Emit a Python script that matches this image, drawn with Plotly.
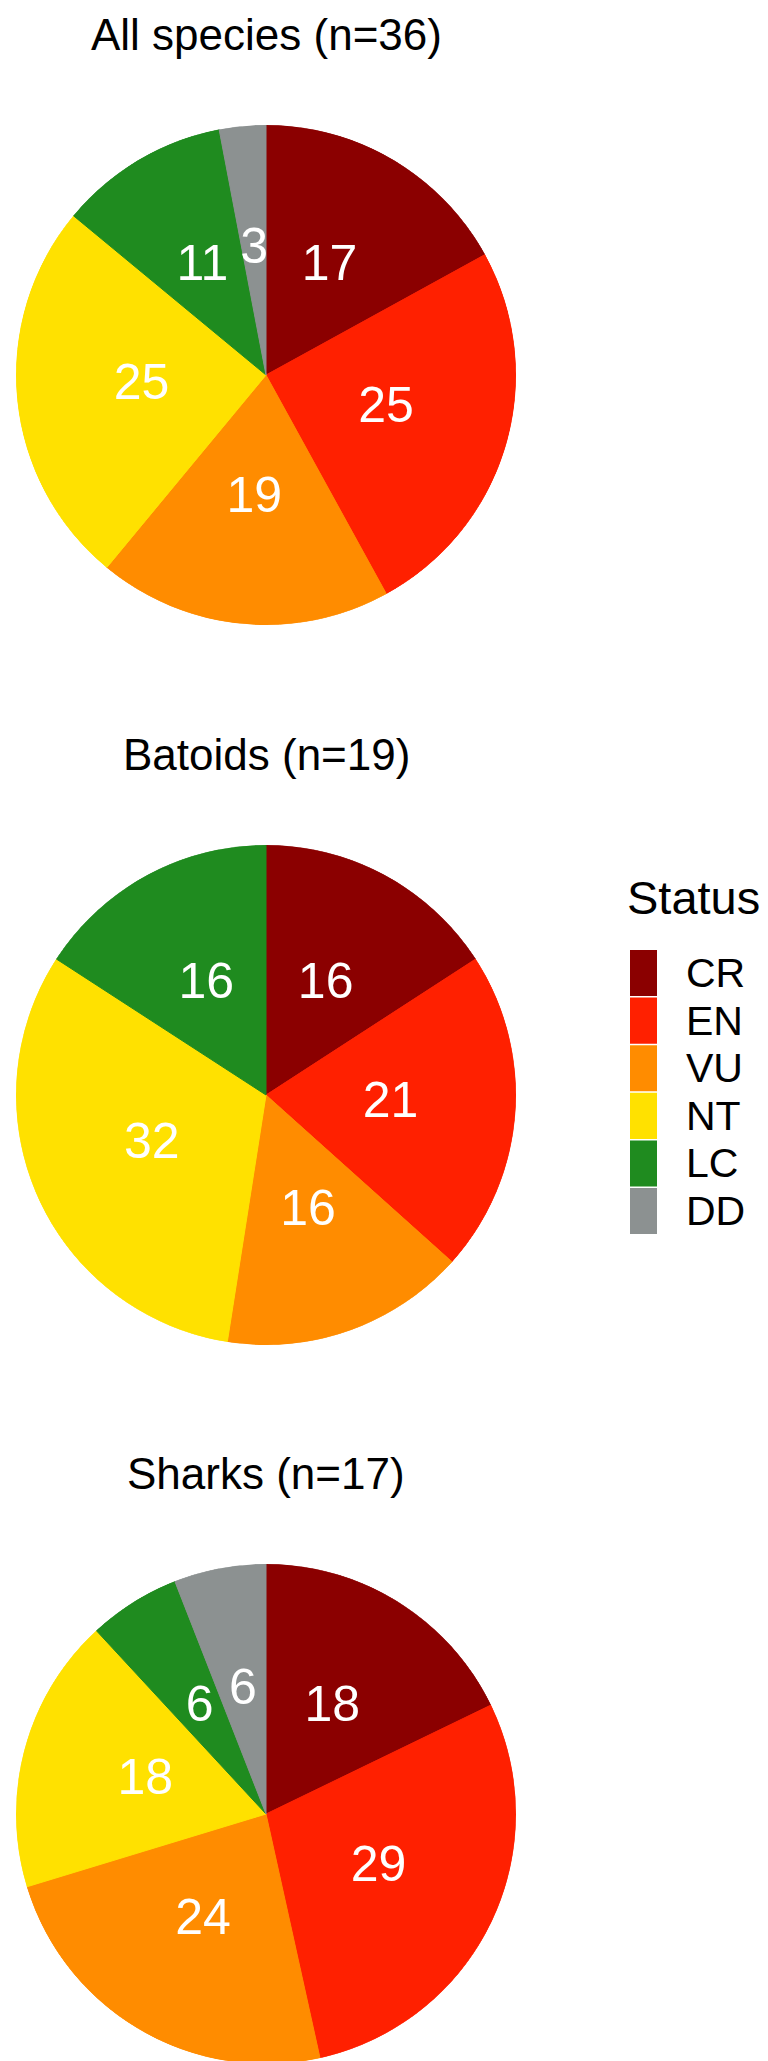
"""
IUCN status pies for all species, batoids and sharks.
Each pie is a stacked polar bar (ggplot coord_polar style) so labels sit at half radius.
"""

import plotly.graph_objects as go

# ── data ──────────────────────────────────────────────────────────────────────
STATUS = ['CR', 'EN', 'VU', 'NT', 'LC', 'DD']
ALL_SPECIES = [17, 25, 19, 25, 11, 3]
BATOIDS = [16, 21, 16, 32, 16, 0]
SHARKS = [18, 29, 24, 18, 6, 6]
TITLES = ['All species (n=36)', 'Batoids (n=19)', 'Sharks (n=17)']

COLORES = {
    'CR': '#8B0000',
    'EN': '#FF2000',
    'VU': '#FF8C00',
    'NT': '#FFE100',
    'LC': '#1F8B1F',
    'DD': '#8C9191',
}

FUENTE = 'Liberation Sans, Arial, sans-serif'
W, H = 768, 2061

# pixel layout of the panels
CX, R = 258, 250
CENTROS_Y = [367, 1087, 1806]
TITULO_DY = 341


def px_x(x):
    return x / W


def px_y(y):
    return 1 - y / H


fig = go.Figure()
annotations = []
layout_polar = {}

for i, (valores, titulo) in enumerate(zip([ALL_SPECIES, BATOIDS, SHARKS], TITLES)):
    total = sum(valores)
    anchos = [v / total * 360 for v in valores]
    medios, acc = [], 0
    for a in anchos:
        medios.append(acc + a / 2)
        acc += a
    idx = [k for k, v in enumerate(valores) if v > 0]
    colores = [COLORES[STATUS[k]] for k in idx]
    sub = 'polar' if i == 0 else f'polar{i + 1}'

    fig.add_trace(go.Barpolar(
        r=[1] * len(idx),
        theta=[medios[k] for k in idx],
        width=[anchos[k] for k in idx],
        marker=dict(color=colores, line=dict(color=colores, width=1)),
        customdata=[STATUS[k] for k in idx],
        hovertemplate='%{customdata}<extra></extra>',
        subplot=sub,
        showlegend=False,
    ))
    fig.add_trace(go.Scatterpolar(
        r=[0.5] * len(idx),
        theta=[medios[k] for k in idx],
        mode='text',
        text=[str(valores[k]) for k in idx],
        textposition='middle center',
        textfont=dict(family=FUENTE, size=50, color='white'),
        hoverinfo='skip',
        subplot=sub,
        showlegend=False,
    ))

    cy = CENTROS_Y[i]
    layout_polar[sub] = dict(
        domain=dict(x=[px_x(CX - R), px_x(CX + R)], y=[px_y(cy + R), px_y(cy - R)]),
        bgcolor='white',
        bargap=0,
        angularaxis=dict(rotation=90, direction='clockwise', visible=False),
        radialaxis=dict(range=[0, 1], visible=False),
    )
    annotations.append(dict(
        text=titulo, x=px_x(CX), y=px_y(cy - TITULO_DY),
        xref='paper', yref='paper', xanchor='center', yanchor='middle',
        showarrow=False, font=dict(family=FUENTE, size=44, color='black'),
    ))

# ── manual legend (square keys are larger than plotly's legend symbols) ──────
shapes = []
KEY_X0, KEY_X1 = 622, 649
KEY_TOP, KEY_PASO = 942, 47.6
for j, s in enumerate(STATUS):
    y0 = KEY_TOP + j * KEY_PASO
    y1 = y0 + KEY_PASO - 1.5
    shapes.append(dict(
        type='rect', xref='paper', yref='paper',
        x0=px_x(KEY_X0), x1=px_x(KEY_X1), y0=px_y(y1), y1=px_y(y0),
        fillcolor=COLORES[s], line=dict(width=0),
    ))
    annotations.append(dict(
        text=s, x=px_x(676), y=px_y((y0 + y1) / 2),
        xref='paper', yref='paper', xanchor='left', yanchor='middle',
        showarrow=False, font=dict(family=FUENTE, size=41, color='black'),
    ))
annotations.append(dict(
    text='Status', x=px_x(617), y=px_y(890),
    xref='paper', yref='paper', xanchor='left', yanchor='middle',
    showarrow=False, font=dict(family=FUENTE, size=47, color='black'),
))

fig.update_layout(
    width=W, height=H,
    margin=dict(t=0, b=0, l=0, r=0),
    paper_bgcolor='white',
    plot_bgcolor='white',
    font=dict(family=FUENTE, color='black'),
    showlegend=False,
    annotations=annotations,
    shapes=shapes,
    **layout_polar,
)

fig.write_html("out.html")
